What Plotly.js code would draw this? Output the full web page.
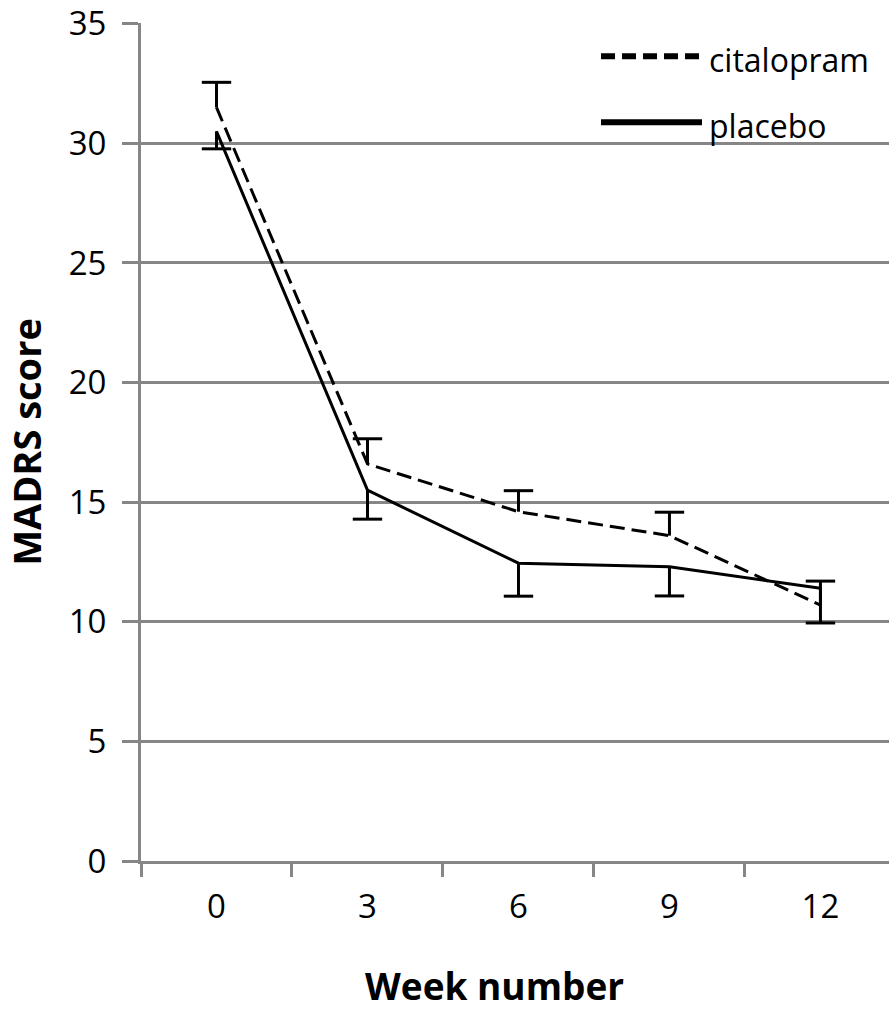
<!DOCTYPE html>
<html>
<head>
<meta charset="utf-8">
<script src="https://cdn.plot.ly/plotly-3.0.1.min.js"></script>
<style>
  html, body { margin: 0; padding: 0; background: #fff; }
  #chart { width: 889px; height: 1010px; }
</style>
</head>
<body>
<div id="chart"></div>
<script>
// ---- data ----
var weeks = ['0', '3', '6', '9', '12'];
var citalopram = [31.5, 16.6, 14.6, 13.6, 10.7];
var citalopramErrPlus = [1.05, 1.05, 0.88, 0.98, 1.0];
var placebo = [30.5, 15.5, 12.45, 12.3, 11.4];
var placeboErrMinus = [0.73, 1.21, 1.38, 1.22, 1.45];
var zeros = [0, 0, 0, 0, 0];
var yTicks = [0, 5, 10, 15, 20, 25, 30, 35];
var seriesNames = ['citalopram', 'placebo'];

var FONT = '"Open Sans", "Liberation Sans", sans-serif';
var GRID = '#868686';

var citCaps = citalopram.map(function (v, i) { return v + citalopramErrPlus[i]; });
var plaCaps = placebo.map(function (v, i) { return v - placeboErrMinus[i]; });

var traces = [
  {
    x: weeks, y: citalopram, type: 'scatter', mode: 'lines', name: seriesNames[0],
    line: { color: '#000', width: 3, dash: '15px,7px' },
    error_y: { type: 'data', symmetric: false, array: citalopramErrPlus, arrayminus: zeros,
               color: '#000', thickness: 3, width: 0 },
    showlegend: false, hoverinfo: 'skip'
  },
  {
    x: weeks, y: placebo, type: 'scatter', mode: 'lines', name: seriesNames[1],
    line: { color: '#000', width: 3 },
    error_y: { type: 'data', symmetric: false, array: zeros, arrayminus: placeboErrMinus,
               color: '#000', thickness: 3, width: 0 },
    showlegend: false, hoverinfo: 'skip'
  },
  {
    x: weeks, y: citCaps, type: 'scatter', mode: 'markers',
    marker: { symbol: 'line-ew', size: 21, color: '#000', line: { color: '#000', width: 3 } },
    showlegend: false, hoverinfo: 'skip'
  },
  {
    x: weeks, y: plaCaps, type: 'scatter', mode: 'markers',
    marker: { symbol: 'line-ew', size: 21, color: '#000', line: { color: '#000', width: 3 } },
    showlegend: false, hoverinfo: 'skip'
  }
];

var layout = {
  width: 889, height: 1010,
  margin: { l: 141, r: 0, t: 23, b: 149, pad: 0 },
  paper_bgcolor: '#fff', plot_bgcolor: '#fff',
  showlegend: false,
  font: { family: FONT, color: '#000', size: 33 },
  xaxis: {
    type: 'category',
    range: [-0.5, 4.454],
    tickson: 'boundaries',
    ticks: 'outside', ticklen: 13, tickwidth: 3, tickcolor: GRID,
    showline: true, linecolor: GRID, linewidth: 3,
    showgrid: false, zeroline: false,
    tickfont: { family: FONT, size: 33, color: '#000' },
    ticklabelstandoff: 14,
    automargin: false
  },
  yaxis: {
    range: [0, 35.03],
    tickvals: yTicks,
    ticks: 'outside', ticklen: 16, tickwidth: 3, tickcolor: GRID,
    showline: true, linecolor: GRID, linewidth: 3,
    showgrid: true, gridcolor: GRID, gridwidth: 3,
    zeroline: false,
    tickfont: { family: FONT, size: 33, color: '#000' },
    ticklabelstandoff: 9,
    title: { text: 'MADRS score', font: { family: FONT, size: 38, color: '#000', weight: 'bold' }, standoff: 20 },
    automargin: false
  },
  shapes: [
    { type: 'line', xref: 'paper', yref: 'y', x0: 0.615, x1: 0.750, y0: 33.64, y1: 33.64,
      line: { color: '#000', width: 6, dash: '14px,7px' } },
    { type: 'line', xref: 'paper', yref: 'y', x0: 0.615, x1: 0.750, y0: 30.88, y1: 30.88,
      line: { color: '#000', width: 6 } }
  ],
  annotations: [
    { xref: 'paper', yref: 'y', x: 0.757, y: 33.5, xanchor: 'left', yanchor: 'middle',
      text: seriesNames[0], showarrow: false, font: { family: FONT, size: 32, color: '#000' } },
    { xref: 'paper', yref: 'y', x: 0.757, y: 30.75, xanchor: 'left', yanchor: 'middle',
      text: seriesNames[1], showarrow: false, font: { family: FONT, size: 32, color: '#000' } },
    { xref: 'paper', yref: 'paper', x: 0.473, y: -0.149, xanchor: 'center', yanchor: 'middle',
      text: 'Week number', showarrow: false,
      font: { family: FONT, size: 37, color: '#000', weight: 'bold' } }
  ]
};

Plotly.newPlot('chart', traces, layout, { displayModeBar: false, staticPlot: true });
</script>
</body>
</html>
